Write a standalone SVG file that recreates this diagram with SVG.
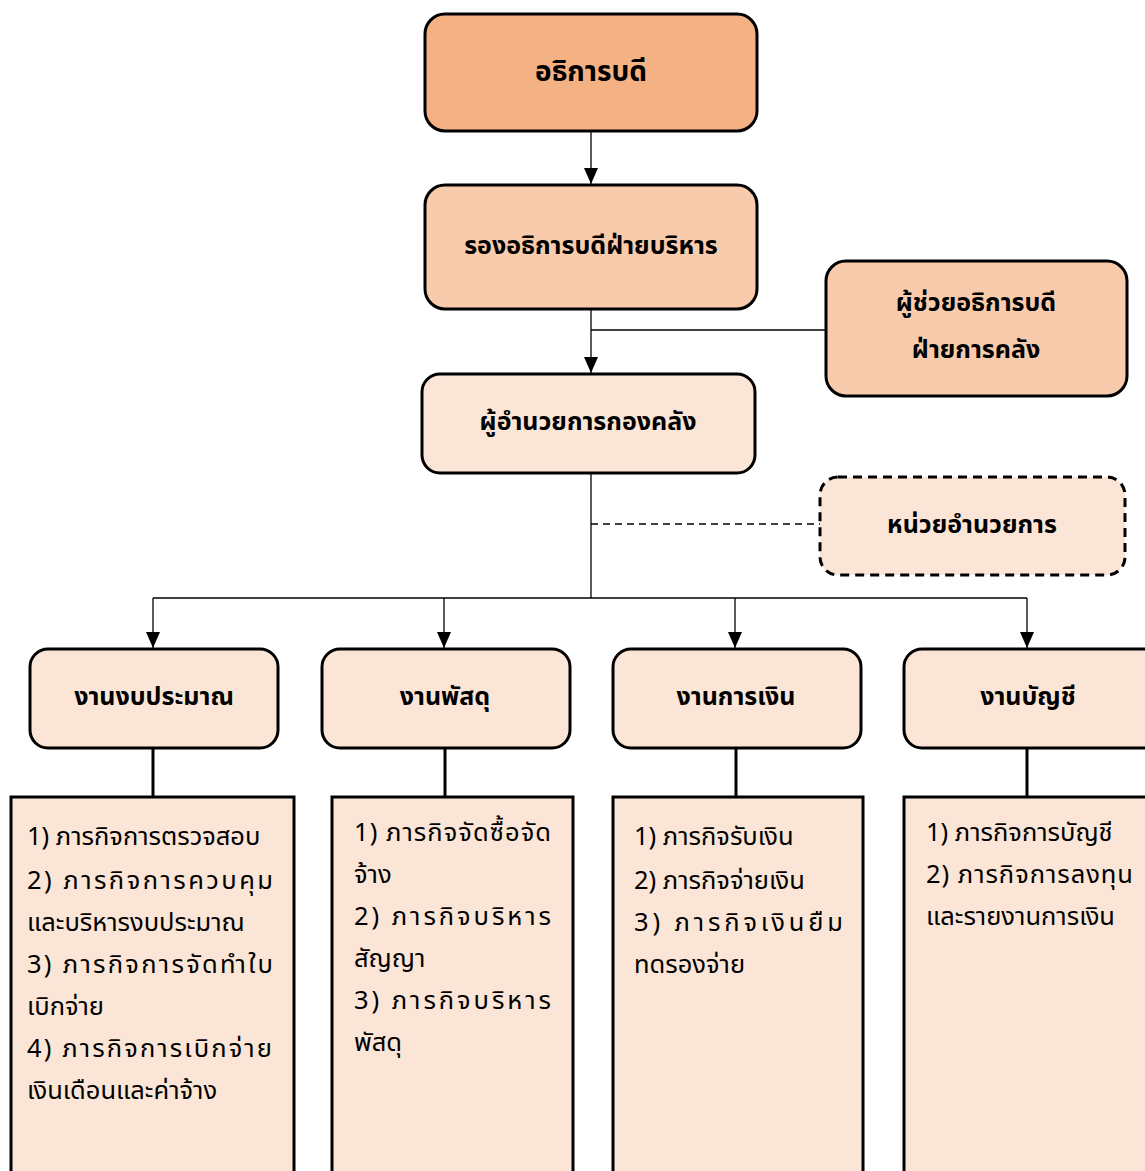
<svg xmlns="http://www.w3.org/2000/svg" width="1145" height="1171" viewBox="0 0 1145 1171">
<defs>
<marker id="ah" markerWidth="16" markerHeight="14" refX="16" refY="7" orient="auto" markerUnits="userSpaceOnUse" viewBox="0 0 16 14">
<path d="M0,0 L16,7 L0,14 Z" fill="#000"/>
</marker>
<style>
.n{stroke:#000;stroke-width:3}
.c1{fill:#F4B183}
.c2{fill:#F8CBAD}
.c3{fill:#FBE5D6}
.t{font-family:"Noto Sans Thai","Noto Sans","Liberation Sans",sans-serif;font-size:25px;font-weight:bold;text-anchor:middle;dominant-baseline:central;fill:#000}
.big{font-size:28px}
.b{font-family:"Noto Sans Thai","Noto Sans","Liberation Sans",sans-serif;font-size:25.5px;fill:#000;dominant-baseline:central}
.ln{stroke:#000;stroke-width:1.3;fill:none}
.lt{stroke:#000;stroke-width:3;fill:none}
</style>
</defs>
<rect width="1145" height="1171" fill="#fff"/>
<g id="connectors">
<line class="ln" x1="591" y1="131" x2="591" y2="184" marker-end="url(#ah)"/>
<line class="ln" x1="591" y1="309" x2="591" y2="373" marker-end="url(#ah)"/>
<line class="ln" x1="591" y1="330" x2="826" y2="330"/>
<line class="ln" x1="591" y1="473" x2="591" y2="598"/>
<line class="ln" x1="591" y1="524" x2="820" y2="524" stroke-dasharray="7,5"/>
<line class="ln" x1="153" y1="598" x2="1027" y2="598"/>
<line class="ln" x1="153" y1="598" x2="153" y2="648" marker-end="url(#ah)"/>
<line class="ln" x1="444" y1="598" x2="444" y2="648" marker-end="url(#ah)"/>
<line class="ln" x1="735" y1="598" x2="735" y2="648" marker-end="url(#ah)"/>
<line class="ln" x1="1027" y1="598" x2="1027" y2="648" marker-end="url(#ah)"/>
<line class="lt" x1="153" y1="748" x2="153" y2="797"/>
<line class="lt" x1="445" y1="748" x2="445" y2="797"/>
<line class="lt" x1="736" y1="748" x2="736" y2="797"/>
<line class="lt" x1="1027" y1="748" x2="1027" y2="797"/>
</g>
<g id="n-president">
<rect class="n c1" x="425" y="14" width="332" height="117" rx="20"/>
<text class="t big" x="591" y="72">อธิการบดี</text>
</g>
<g id="n-vp">
<rect class="n c2" x="425" y="185" width="332" height="124" rx="20"/>
<text class="t" x="591" y="246">รองอธิการบดีฝ่ายบริหาร</text>
</g>
<g id="n-asst">
<rect class="n c2" x="826" y="261" width="301" height="135" rx="20"/>
<text class="t" x="976" y="303">ผู้ช่วยอธิการบดี</text>
<text class="t" x="976" y="350">ฝ่ายการคลัง</text>
</g>
<g id="n-director">
<rect class="n c3" x="422" y="374" width="333" height="99" rx="18"/>
<text class="t" x="588" y="422">ผู้อำนวยการกองคลัง</text>
</g>
<g id="n-admin">
<rect class="n c3" x="820" y="477" width="305" height="98" rx="18" stroke-dasharray="9,6"/>
<text class="t" x="972" y="525">หน่วยอำนวยการ</text>
</g>
<g id="n-budget">
<rect class="n c3" x="30" y="649" width="248" height="99" rx="18"/>
<text class="t" x="154" y="697">งานงบประมาณ</text>
</g>
<g id="n-supply">
<rect class="n c3" x="322" y="649" width="248" height="99" rx="18"/>
<text class="t" x="445" y="697">งานพัสดุ</text>
</g>
<g id="n-finance">
<rect class="n c3" x="613" y="649" width="248" height="99" rx="18"/>
<text class="t" x="736" y="697">งานการเงิน</text>
</g>
<g id="n-account">
<rect class="n c3" x="904" y="649" width="260" height="99" rx="18"/>
<text class="t" x="1028" y="697">งานบัญชี</text>
</g>
<g id="d-budget">
<rect class="n c3" x="11" y="797" width="283" height="390"/>
<text class="b" x="27" y="837">1) ภารกิจการตรวจสอบ</text>
<text class="b" x="27" y="881" textLength="246" lengthAdjust="spacing">2) ภารกิจการควบคุม</text>
<text class="b" x="27" y="923">และบริหารงบประมาณ</text>
<text class="b" x="27" y="965" textLength="246" lengthAdjust="spacing">3) ภารกิจการจัดทำใบ</text>
<text class="b" x="27" y="1007">เบิกจ่าย</text>
<text class="b" x="27" y="1049" textLength="245" lengthAdjust="spacing">4) ภารกิจการเบิกจ่าย</text>
<text class="b" x="27" y="1091">เงินเดือนและค่าจ้าง</text>
</g>
<g id="d-supply">
<rect class="n c3" x="332" y="797" width="241" height="390"/>
<text class="b" x="354" y="833" textLength="197" lengthAdjust="spacing">1) ภารกิจจัดซื้อจัด</text>
<text class="b" x="354" y="875">จ้าง</text>
<text class="b" x="354" y="917" textLength="197" lengthAdjust="spacing">2) ภารกิจบริหาร</text>
<text class="b" x="354" y="959">สัญญา</text>
<text class="b" x="354" y="1001" textLength="197" lengthAdjust="spacing">3) ภารกิจบริหาร</text>
<text class="b" x="354" y="1043">พัสดุ</text>
</g>
<g id="d-finance">
<rect class="n c3" x="613" y="797" width="250" height="390"/>
<text class="b" x="634" y="837">1) ภารกิจรับเงิน</text>
<text class="b" x="634" y="881">2) ภารกิจจ่ายเงิน</text>
<text class="b" x="634" y="923" textLength="209" lengthAdjust="spacing">3) ภารกิจเงินยืม</text>
<text class="b" x="634" y="965">ทดรองจ่าย</text>
</g>
<g id="d-account">
<rect class="n c3" x="904" y="797" width="260" height="390"/>
<text class="b" x="926" y="833">1) ภารกิจการบัญชี</text>
<text class="b" x="926" y="875" textLength="207" lengthAdjust="spacing">2) ภารกิจการลงทุน</text>
<text class="b" x="926" y="917">และรายงานการเงิน</text>
</g>
</svg>
